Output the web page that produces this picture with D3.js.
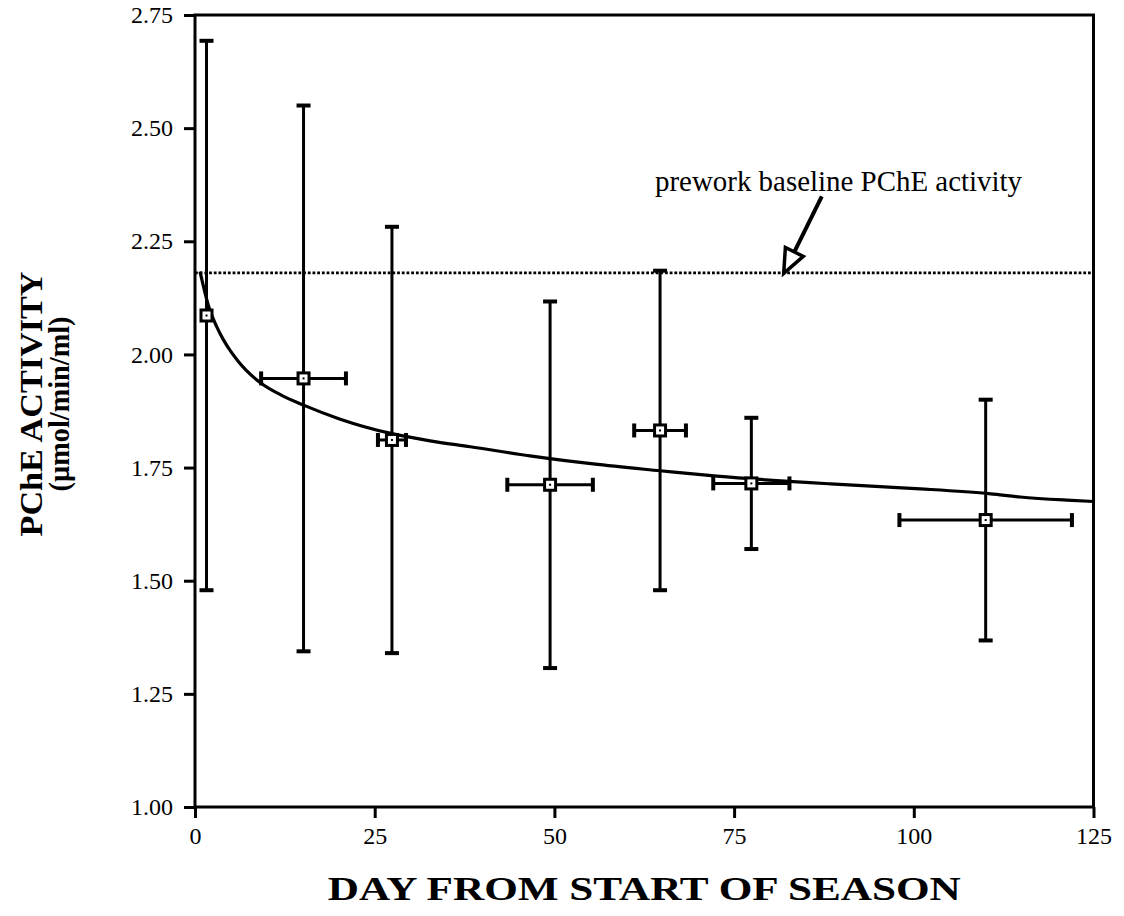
<!DOCTYPE html>
<html>
<head>
<meta charset="utf-8">
<script src="https://cdn.jsdelivr.net/npm/d3@7"></script>
<style>
  body { margin: 0; background: #fff; }
  svg { display: block; }
  text { font-family: "Liberation Serif", "Times New Roman", serif; fill: #000; }
</style>
</head>
<body>
<svg id="chart" width="1124" height="916"></svg>
<script>
// Mean plasma cholinesterase activity per sampling visit
const days = [1.6, 15.1, 27.4, 49.4, 64.7, 77.4, 110.0];
const means = [2.086, 1.947, 1.811, 1.712, 1.832, 1.715, 1.634];
const sdActivity = [0.607, 0.603, 0.471, 0.405, 0.353, 0.145, 0.266];
const sdDay = [0, 5.9, 1.95, 5.95, 3.6, 5.3, 12.0];

// Fitted decline curve
const fitDays = [0.7, 1.85, 3.0, 4.0, 5.0, 6.0, 7.0, 9.05, 12.0, 15.1, 20.2, 27.1, 32.7, 38.3, 46.6, 55.4, 64.7, 72.6, 88.4, 95.3, 100.9, 110.7, 114.8, 121.3, 125];
const fitValues = [2.183, 2.109, 2.062, 2.031, 2.006, 1.985, 1.967, 1.938, 1.910, 1.888, 1.857, 1.826, 1.809, 1.796, 1.776, 1.758, 1.743, 1.731, 1.714, 1.708, 1.703, 1.692, 1.685, 1.678, 1.675];

// Pre-work baseline
const baselineValue = 2.18;

const xTicks = [0, 25, 50, 75, 100, 125];
const yTicks = [1.00, 1.25, 1.50, 1.75, 2.00, 2.25, 2.50, 2.75];

const baselineLabel = "prework baseline PChE activity";
const labelPos = [64.0, 2.361];
const arrowTail = [87.2, 2.349];
const arrowTip = [81.9, 2.179];

const xTitle = "DAY FROM START OF SEASON";
const yTitle1 = "PChE ACTIVITY";
const yTitle2 = "(\u00B5mol/min/ml)";

const svg = d3.select("#chart");
const plotLeft = 195, plotRight = 1093.5, plotTop = 15, plotBottom = 807;

const x = d3.scaleLinear().domain([0, 125]).range([plotLeft, plotRight]);
const y = d3.scaleLinear().domain([1.00, 2.75]).range([plotBottom, plotTop]);

// frame
svg.append("rect")
  .attr("x", plotLeft).attr("y", plotTop)
  .attr("width", plotRight - plotLeft).attr("height", plotBottom - plotTop)
  .attr("fill", "none").attr("stroke", "#000").attr("stroke-width", 3);

// axes
const xAxis = d3.axisBottom(x).tickValues(xTicks).tickFormat(d3.format("d"))
  .tickSizeInner(11).tickSizeOuter(0).tickPadding(9);
const gx = svg.append("g").attr("transform", `translate(0,${plotBottom})`).call(xAxis);
gx.select(".domain").remove();
gx.selectAll(".tick line").attr("stroke", "#000").attr("stroke-width", 3);
gx.selectAll(".tick text").attr("font-size", 24).attr("font-family", "Liberation Serif");

const yAxis = d3.axisLeft(y).tickValues(yTicks).tickFormat(d3.format(".2f"))
  .tickSizeInner(11).tickSizeOuter(0).tickPadding(11);
const gy = svg.append("g").attr("transform", `translate(${plotLeft},0)`).call(yAxis);
gy.select(".domain").remove();
gy.selectAll(".tick line").attr("stroke", "#000").attr("stroke-width", 3);
gy.selectAll(".tick text").attr("font-size", 24).attr("font-family", "Liberation Serif");

// baseline (dotted)
svg.append("line")
  .attr("x1", x(0)).attr("x2", x(125))
  .attr("y1", y(baselineValue)).attr("y2", y(baselineValue))
  .attr("stroke", "#000").attr("stroke-width", 2.8)
  .attr("stroke-dasharray", "2.8,1.9");

// fitted curve
const line = d3.line().x((d, i) => x(fitDays[i])).y(d => y(d)).curve(d3.curveMonotoneX);
svg.append("path").datum(fitValues)
  .attr("d", line)
  .attr("fill", "none").attr("stroke", "#000").attr("stroke-width", 3.2);

// error bars
const pts = days.map((d, i) => ({ d, m: means[i], sy: sdActivity[i], sx: sdDay[i] }));
const cap = 7;
const eb = svg.append("g").attr("stroke", "#000");
pts.forEach(p => {
  const cx = x(p.d), cy = y(p.m);
  eb.append("line").attr("x1", cx).attr("x2", cx)
    .attr("y1", y(p.m + p.sy)).attr("y2", y(p.m - p.sy)).attr("stroke-width", 3);
  eb.append("line").attr("x1", cx - cap).attr("x2", cx + cap)
    .attr("y1", y(p.m + p.sy)).attr("y2", y(p.m + p.sy)).attr("stroke-width", 4);
  eb.append("line").attr("x1", cx - cap).attr("x2", cx + cap)
    .attr("y1", y(p.m - p.sy)).attr("y2", y(p.m - p.sy)).attr("stroke-width", 4);
  if (p.sx > 0) {
    eb.append("line").attr("x1", x(p.d - p.sx)).attr("x2", x(p.d + p.sx))
      .attr("y1", cy).attr("y2", cy).attr("stroke-width", 3);
    [p.d - p.sx, p.d + p.sx].forEach(v => {
      eb.append("line").attr("x1", x(v)).attr("x2", x(v))
        .attr("y1", cy - cap).attr("y2", cy + cap).attr("stroke-width", 4);
    });
  }
});

// square markers
const mk = svg.append("g");
pts.forEach(p => {
  const cx = x(p.d), cy = y(p.m);
  mk.append("rect").attr("x", cx - 5.5).attr("y", cy - 5.5)
    .attr("width", 11).attr("height", 11)
    .attr("fill", "#fff").attr("stroke", "#000").attr("stroke-width", 3);
  mk.append("rect").attr("x", cx - 1).attr("y", cy - 1)
    .attr("width", 2).attr("height", 2).attr("fill", "#000");
});

// annotation
svg.append("text")
  .attr("x", x(labelPos[0])).attr("y", y(labelPos[1]))
  .attr("font-size", 29)
  .attr("textLength", 367).attr("lengthAdjust", "spacingAndGlyphs")
  .text(baselineLabel);

const tx = x(arrowTip[0]), ty = y(arrowTip[1]);
const sx = x(arrowTail[0]), sy = y(arrowTail[1]);
const ang = Math.atan2(ty - sy, tx - sx);
const headLen = 24, headHalf = 10;
const bx = tx - headLen * Math.cos(ang), by = ty - headLen * Math.sin(ang);
svg.append("line")
  .attr("x1", sx).attr("y1", sy).attr("x2", bx).attr("y2", by)
  .attr("stroke", "#000").attr("stroke-width", 4);
const px = -Math.sin(ang), py = Math.cos(ang);
svg.append("path")
  .attr("d", `M${tx},${ty}L${bx + headHalf * px},${by + headHalf * py}L${bx - headHalf * px},${by - headHalf * py}Z`)
  .attr("fill", "#fff").attr("stroke", "#000").attr("stroke-width", 3.5)
  .attr("stroke-linejoin", "miter");

// axis titles
svg.append("text")
  .attr("x", (plotLeft + plotRight) / 2).attr("y", 900)
  .attr("text-anchor", "middle")
  .attr("font-size", 33).attr("font-weight", "bold")
  .attr("textLength", 633).attr("lengthAdjust", "spacingAndGlyphs")
  .text(xTitle);

svg.append("text")
  .attr("transform", `translate(42,404) rotate(-90)`)
  .attr("text-anchor", "middle")
  .attr("font-size", 31).attr("font-weight", "bold")
  .attr("textLength", 265).attr("lengthAdjust", "spacingAndGlyphs")
  .text(yTitle1);
svg.append("text")
  .attr("transform", `translate(69,404) rotate(-90)`)
  .attr("text-anchor", "middle")
  .attr("font-size", 30).attr("font-weight", "bold")
  .attr("textLength", 175).attr("lengthAdjust", "spacingAndGlyphs")
  .text(yTitle2);
</script>
</body>
</html>
